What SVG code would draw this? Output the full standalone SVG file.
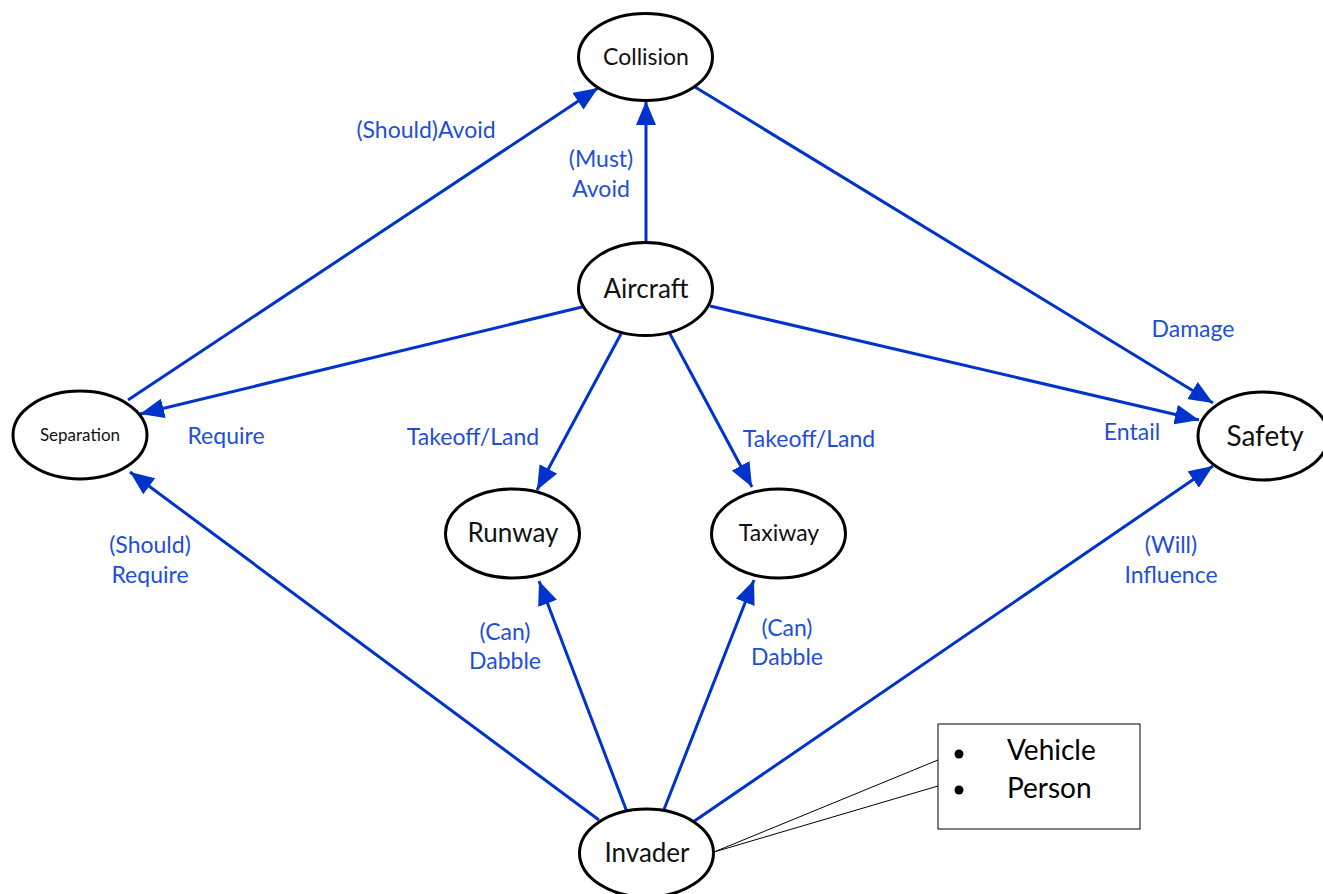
<svg xmlns="http://www.w3.org/2000/svg" width="1323" height="894" viewBox="0 0 1323 894">
  <style>
    .node ellipse { fill: #ffffff; stroke: #000000; stroke-width: 3; }
    .node text { font-family: Lato, "Liberation Sans", sans-serif; fill: #111111; text-anchor: middle; }
    .edge { fill: none; stroke: #0033CC; stroke-width: 3; marker-end: url(#arrow); }
    .lbl { font-family: Lato, "Liberation Sans", sans-serif; font-size: 23px; fill: #1F4FD8; text-anchor: middle; }
    .callout { fill: none; stroke: #000000; stroke-width: 1; }
    .note text { font-family: Lato, "Liberation Sans", sans-serif; font-size: 28px; fill: #000000; }
  </style>
  <defs>
    <marker id="arrow" markerUnits="userSpaceOnUse" markerWidth="24" markerHeight="20" viewBox="0 0 24 20" refX="24" refY="10" orient="auto">
      <path d="M0,0 L24,10 L0,20 Z" fill="#0033CC"/>
    </marker>
  </defs>
  <rect width="1323" height="894" fill="#ffffff"/>

  <!-- connectors -->
  <g id="connectors">
    <path class="edge" d="M128,400 L598,88"/>
    <path class="edge" d="M646,243 L646,101"/>
    <path class="edge" d="M695,87 L1213,403"/>
    <path class="edge" d="M582,307 L140,414"/>
    <path class="edge" d="M622,332 L537,490"/>
    <path class="edge" d="M669,332 L752,487"/>
    <path class="edge" d="M710,306 L1199,420"/>
    <path class="edge" d="M599,820 L130,472"/>
    <path class="edge" d="M627,812 L539,581"/>
    <path class="edge" d="M663,812 L754,580"/>
    <path class="edge" d="M693,822 L1213,466"/>
    <path class="callout" d="M938,760 L714,852 L938,786"/>
  </g>

  <!-- edge labels -->
  <g id="labels">
    <text class="lbl" x="426" y="138">(Should)Avoid</text>
    <text class="lbl" x="601" y="167">(Must)</text>
    <text class="lbl" x="601" y="197">Avoid</text>
    <text class="lbl" x="1193" y="337">Damage</text>
    <text class="lbl" x="226" y="444">Require</text>
    <text class="lbl" x="473" y="445">Takeoff/Land</text>
    <text class="lbl" x="809" y="447">Takeoff/Land</text>
    <text class="lbl" x="1132" y="440">Entail</text>
    <text class="lbl" x="150" y="553">(Should)</text>
    <text class="lbl" x="150" y="583">Require</text>
    <text class="lbl" x="1171" y="553">(Will)</text>
    <text class="lbl" x="1171" y="583">Influence</text>
    <text class="lbl" x="505" y="640">(Can)</text>
    <text class="lbl" x="505" y="669">Dabble</text>
    <text class="lbl" x="787" y="636">(Can)</text>
    <text class="lbl" x="787" y="665">Dabble</text>
  </g>

  <!-- nodes -->
  <g id="collision" class="node">
    <ellipse cx="645.5" cy="57" rx="67" ry="43.5"/>
    <text x="646" y="65" font-size="23">Collision</text>
  </g>
  <g id="aircraft" class="node">
    <ellipse cx="645.5" cy="289" rx="67" ry="46.5"/>
    <text x="646" y="298" font-size="26">Aircraft</text>
  </g>
  <g id="separation" class="node">
    <ellipse cx="80" cy="435" rx="67" ry="44"/>
    <text x="80" y="441" font-size="17">Separation</text>
  </g>
  <g id="safety" class="node">
    <ellipse cx="1263" cy="436" rx="65" ry="44"/>
    <text x="1265" y="446" font-size="28">Safety</text>
  </g>
  <g id="runway" class="node">
    <ellipse cx="512.5" cy="533.5" rx="67" ry="44.5"/>
    <text x="513" y="542" font-size="26">Runway</text>
  </g>
  <g id="taxiway" class="node">
    <ellipse cx="778.5" cy="533.5" rx="67" ry="44.5"/>
    <text x="779" y="541" font-size="23">Taxiway</text>
  </g>
  <g id="invader" class="node">
    <ellipse cx="646.5" cy="853" rx="67" ry="44"/>
    <text x="647" y="862" font-size="26">Invader</text>
  </g>

  <!-- invader kinds -->
  <g id="invader-kinds" class="note">
    <rect x="938" y="724" width="202" height="105" fill="#ffffff" stroke="#000000" stroke-width="1"/>
    <circle cx="959" cy="754" r="4.5" fill="#000000"/>
    <circle cx="959" cy="790" r="4.5" fill="#000000"/>
    <text x="1007" y="760">Vehicle</text>
    <text x="1007" y="798">Person</text>
  </g>
</svg>
